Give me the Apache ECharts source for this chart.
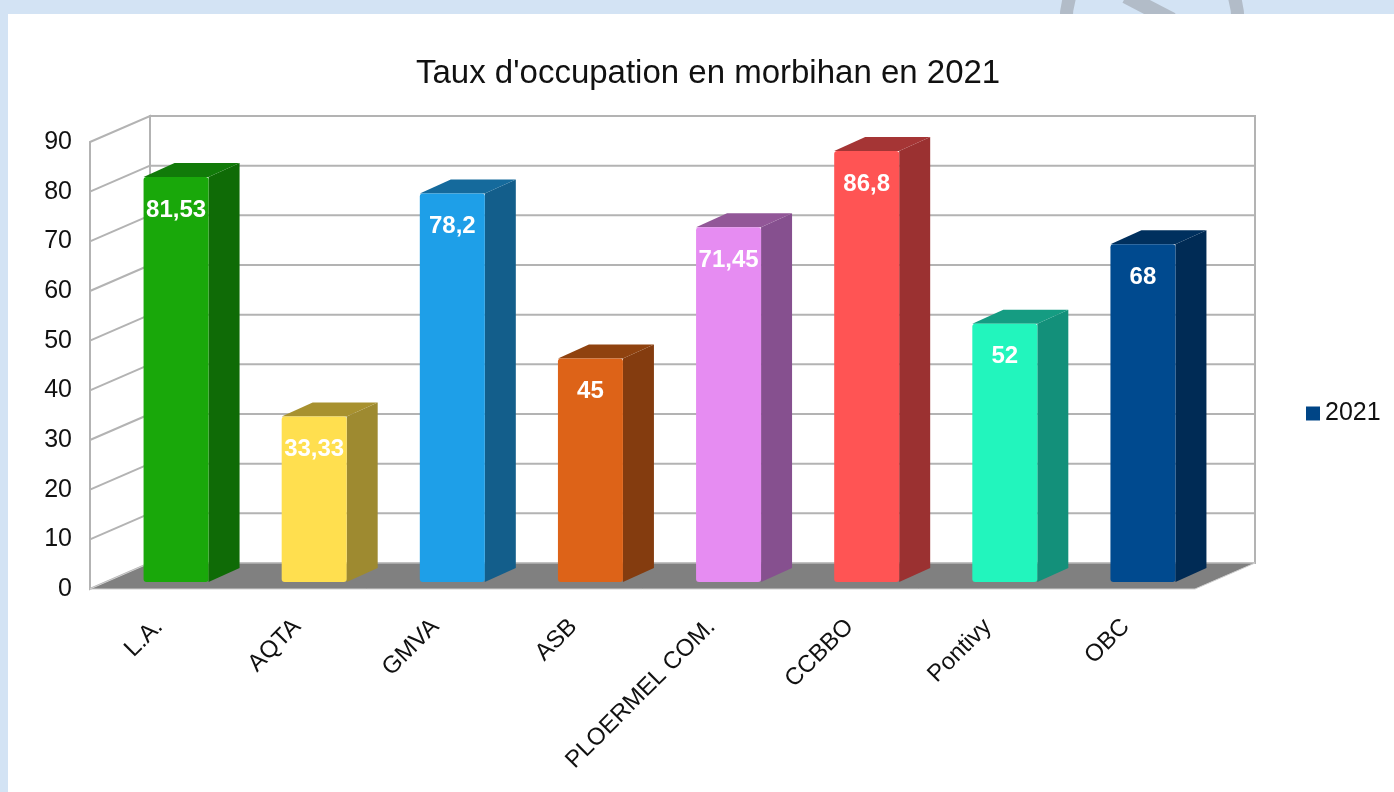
<!DOCTYPE html>
<html>
<head>
<meta charset="utf-8">
<script src="https://cdn.jsdelivr.net/npm/echarts@6/dist/echarts.min.js"></script>
<style>
html, body { margin: 0; padding: 0; background: #d3e3f4; }
#chart { width: 1394px; height: 792px; }
</style>
</head>
<body>
<div id="chart"></div>
<script>
const categories = ['L.A.', 'AQTA', 'GMVA', 'ASB', 'PLOERMEL COM.', 'CCBBO', 'Pontivy', 'OBC']
const values = [81.53, 33.33, 78.2, 45, 71.45, 86.8, 52, 68]
const yTicks = [0, 10, 20, 30, 40, 50, 60, 70, 80, 90]
const frontColors = ['#19a80a', '#ffdf4f', '#1e9fe8', '#dd6318', '#e68cf2', '#ff5454', '#22f5bd', '#004a8f']
const sideColors = ['#0f6b06', '#9e8a30', '#135e8b', '#843c0f', '#86508f', '#9b3131', '#13907a', '#002b55']
const topColors = ['#117a09', '#a8912f', '#156a9c', '#8f420f', '#925798', '#a53535', '#159c82', '#00305e']

// oblique projection offsets (pixels)
const DEPTH = [60, -26]
const BAR_FRONT = [17, -7]
const BAR_DEPTH = [31, -14]
const BAR_W = 65

const fmt = v => String(v).replace('.', ',')

const chart = echarts.init(document.getElementById('chart'))

const renderWalls = (params, api) => {
  const first = api.coord([0, 0])
  const last = api.coord([categories.length - 1, 90])
  const band = api.size([1, 0])[0]
  const xL = first[0] - band / 2
  const xR = last[0] + band / 2
  const yB = first[1]
  const yT = last[1]
  const [dx, dy] = DEPTH
  return {
    type: 'group',
    children: [
      { type: 'rect', shape: { x: xL + dx, y: yT + dy, width: xR - xL, height: yB - yT },
        style: { fill: '#fff', stroke: '#b3b3b3', lineWidth: 2 } },
      { type: 'polygon', shape: { points: [[xL, yT], [xL + dx, yT + dy], [xL + dx, yB + dy], [xL, yB]] },
        style: { fill: '#fff', stroke: '#b3b3b3', lineWidth: 2 } },
      { type: 'polygon', shape: { points: [[xL, yB], [xL + dx, yB + dy], [xR + dx, yB + dy], [xR, yB]] },
        style: { fill: '#808080', stroke: '#d0d0d0', lineWidth: 1 } }
    ]
  }
}

const renderGridLine = (params, api) => {
  const v = api.value(1)
  const p = api.coord([0, v])
  const band = api.size([1, 0])[0]
  const xL = p[0] - band / 2
  const xR = api.coord([categories.length - 1, v])[0] + band / 2
  const [dx, dy] = DEPTH
  return {
    type: 'group',
    children: [
      { type: 'line', shape: { x1: xL, y1: p[1], x2: xL + dx, y2: p[1] + dy }, style: { stroke: '#b3b3b3', lineWidth: 2 } },
      { type: 'line', shape: { x1: xL + dx, y1: p[1] + dy, x2: xR + dx, y2: p[1] + dy }, style: { stroke: '#b3b3b3', lineWidth: 2 } }
    ]
  }
}

const renderBar = (params, api) => {
  const i = api.value(0)
  const v = api.value(1)
  const base = api.coord([i, 0])
  const top = api.coord([i, v])
  const x0 = base[0] - BAR_W / 2 + BAR_FRONT[0]
  const x1 = x0 + BAR_W
  const yb = base[1] + BAR_FRONT[1]
  const yt = top[1] + BAR_FRONT[1]
  const [dx, dy] = BAR_DEPTH
  return {
    type: 'group',
    children: [
      { type: 'polygon', shape: { points: [[x1, yt], [x1 + dx, yt + dy], [x1 + dx, yb + dy], [x1, yb]] },
        style: { fill: sideColors[i] } },
      { type: 'polygon', shape: { points: [[x0, yt], [x0 + dx, yt + dy], [x1 + dx, yt + dy], [x1, yt]] },
        style: { fill: topColors[i] } },
      { type: 'rect', shape: { x: x0, y: yt, width: BAR_W, height: yb - yt, r: 3 },
        style: { fill: frontColors[i] } },
      { type: 'text', x: x0 + BAR_W / 2, y: yt + 33,
        style: { text: fmt(v), fill: '#fff', font: 'bold 24px "Liberation Sans", Arial, sans-serif',
          align: 'center', verticalAlign: 'middle' } }
    ]
  }
}

chart.setOption({
  animation: false,
  title: {
    text: "Taux d'occupation en morbihan en 2021",
    left: 411,
    top: 52,
    textStyle: { fontFamily: 'Liberation Sans', fontSize: 33, fontWeight: 'normal', color: '#111' }
  },
  legend: {
    left: 1301,
    top: 396,
    itemWidth: 14,
    itemHeight: 14,
    itemGap: 6,
    data: [{ name: '2021', icon: 'rect', itemStyle: { color: '#004586' } }],
    textStyle: { fontFamily: 'Liberation Sans', fontSize: 25, color: '#111' }
  },
  grid: { left: 90, top: 142, width: 1105, height: 447 },
  xAxis: {
    type: 'category',
    data: categories,
    axisLine: { show: false },
    axisTick: { show: false },
    axisLabel: { rotate: 45, margin: 34, fontFamily: 'Liberation Sans', fontSize: 24, color: '#111', interval: 0 }
  },
  yAxis: {
    type: 'value',
    min: 0,
    max: 90,
    interval: 10,
    axisLine: { show: false },
    axisTick: { show: false },
    splitLine: { show: false },
    axisLabel: { margin: 18, fontFamily: 'Liberation Sans', fontSize: 25, color: '#111' }
  },
  graphic: [
    { type: 'circle', z: -20, shape: { cx: 1152, cy: 22, r: 86 }, style: { fill: 'none', stroke: '#b2bcc8', lineWidth: 13 } },
    { type: 'line', z: -20, shape: { x1: 1126, y1: -4, x2: 1172, y2: 20 }, style: { stroke: '#b2bcc8', lineWidth: 15 } },
    { type: 'rect', z: -10, shape: { x: 8, y: 14, width: 1400, height: 800 }, style: { fill: '#fff' } }
  ],
  series: [
    { type: 'custom', name: 'walls', z: 1, silent: true, renderItem: renderWalls, data: [[0, 0]] },
    { type: 'custom', name: 'gridlines', z: 2, silent: true, renderItem: renderGridLine,
      data: yTicks.slice(1, -1).map(t => [0, t]) },
    { type: 'custom', name: '2021', z: 3, renderItem: renderBar, itemStyle: { color: '#004586' },
      data: values.map((v, i) => [i, v]) }
  ]
})
</script>
</body>
</html>
